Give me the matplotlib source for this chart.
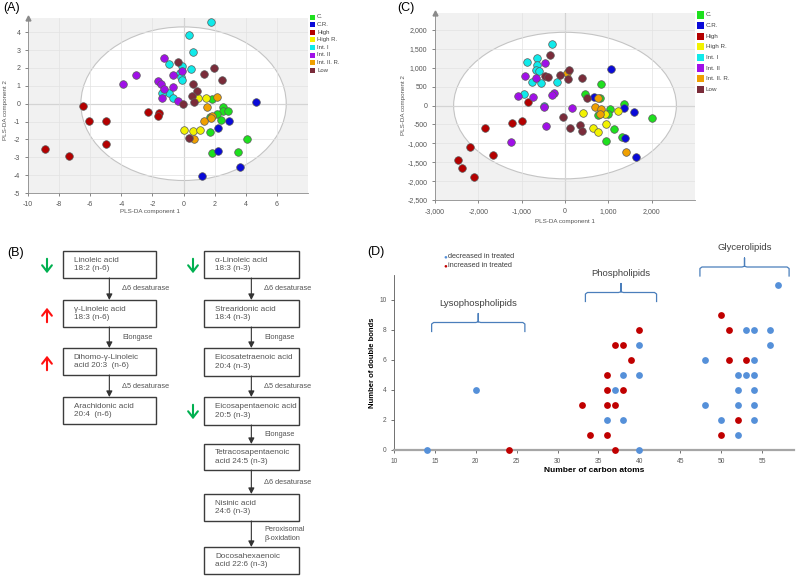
import numpy as np
import matplotlib
matplotlib.use("Agg")
import matplotlib.pyplot as plt
from matplotlib.patches import Ellipse, Rectangle
from matplotlib.ticker import FuncFormatter

plt.rcParams['font.family'] = ['Liberation Sans', 'DejaVu Sans']
plt.rcParams['axes.unicode_minus'] = False

W, H = 796, 581

# ---- group names / colours (shared by A and C)
groups = ['C.', 'C.R.', 'High', 'High R.', 'Int. I', 'Int. II', 'Int. II. R.', 'Low']
group_colors = ['#1ee01e', '#0a0ad8', '#b40000', '#f2f200', '#10eaea', '#a010e8', '#f0a000', '#7a2c3a']

# ---- panel A scores (component 1, component 2) per group
a_x = {
    'C.': [1.80, 2.56, 2.52, 2.88, 2.18, 1.69, 2.42, 1.72, 4.05, 3.50, 1.84],
    'C.R.': [4.68, 2.90, 2.20, 2.20, 3.60, 1.21],
    'High': [-6.44, -6.06, -4.98, -4.98, -8.92, -7.37, -2.31, -1.55, -1.67],
    'High R.': [0.91, 1.42, 0.00, 0.61, 1.08],
    'Int. I': [1.76, 0.34, 0.59, -0.93, -0.13, 0.49, -0.25, -0.15, -0.13, -0.93, -1.40, -0.66],
    'Int. II': [-1.25, -3.05, -3.88, -1.63, -1.42, -1.27, -0.70, -0.66, -0.08, -1.38, -0.38],
    'Int. II. R.': [2.16, 1.48, 1.80, 1.76, 1.33, 0.66],
    'Low': [-0.34, 1.95, 1.33, 2.44, 0.59, 0.89, 0.55, 0.64, -0.04, 0.34],
}
a_y = {
    'C.': [0.28, -0.17, -0.39, -0.41, -0.60, -0.76, -0.93, -1.57, -2.00, -2.69, -2.76],
    'C.R.': [0.07, -0.99, -1.38, -2.63, -3.53, -4.05],
    'High': [-0.13, -0.99, -0.99, -2.28, -2.54, -2.95, -0.47, -0.50, -0.67],
    'High R.': [0.32, 0.30, -1.47, -1.51, -1.47],
    'Int. I': [4.57, 3.86, 2.87, 2.20, 2.09, 1.94, 1.74, 1.51, 1.31, 0.62, 0.62, 0.30],
    'Int. II': [2.54, 1.60, 1.08, 1.27, 1.10, 0.80, 0.93, 1.60, 1.85, 0.30, 0.17],
    'Int. II. R.': [0.37, -0.19, -0.69, -0.82, -0.99, -2.00],
    'Low': [2.33, 2.01, 1.66, 1.32, 1.08, 0.73, 0.45, 0.07, -0.02, -1.90],
}

# ---- panel C scores
c_x = {
    'C.': [462, 823, 808, 1046, 1369, 769, 992, 2000, 1131, 1308, 954],
    'C.R.': [1062, 669, 1369, 1600, 1392, 1646],
    'High': [-862, -1000, -1215, -1846, -2185, -1654, -2469, -2369, -2092],
    'High R.': [408, 923, 1231, 938, 646, 769],
    'Int. I': [-292, -877, -654, -646, -669, -600, -754, -562, -192, -946, -477],
    'Int. II': [-454, -915, -677, -1085, -731, -254, -292, -492, 154, -446, -1246],
    'Int. II. R.': [38, 769, 700, 823, 808, 1400],
    'Low': [-338, -462, -385, -108, 100, 69, 385, 508, -46, 123, 346, 400],
}
c_y = {
    'C.': [317, 581, 202, -79, 44, -238, -211, -334, -616, -827, -942],
    'C.R.': [959, 229, -62, -176, -871, -1373],
    'High': [88, -396, -475, -598, -1100, -1311, -1452, -1663, -1901],
    'High R.': [-194, -229, -132, -493, -598, -713],
    'Int. I': [1637, 1153, 1267, 1082, 950, 906, 616, 607, 634, 299, 0],
    'Int. II': [1126, 774, 739, 255, 220, 334, 273, -35, -53, -546, -968],
    'Int. II. R.': [862, 202, -26, -97, -211, -1241],
    'Low': [1329, 792, 757, 818, 942, 713, 730, 202, -299, -590, -510, -686],
}

# ---- panel B pathway
n6_names = ['Linoleic acid\n18:2 (n-6)', 'γ-Linoleic acid\n18:3 (n-6)',
            'Dihomo-γ-Linoleic\nacid 20:3  (n-6)', 'Arachidonic acid\n20:4  (n-6)']
n6_enzymes = ['Δ6 desaturase', 'Elongase', 'Δ5 desaturase']
n6_change = ['down', 'up', 'up', None]
n3_names = ['α-Linoleic acid\n18:3 (n-3)', 'Strearidonic acid\n18:4 (n-3)',
            'Eicosatetraenoic acid\n20:4 (n-3)', 'Eicosapentaenoic acid\n20:5 (n-3)',
            'Tetracosapentaenoic\nacid 24:5 (n-3)', 'Nisinic acid\n24:6 (n-3)',
            'Docosahexaenoic\nacid 22:6 (n-3)']
n3_enzymes = ['Δ6 desaturase', 'Elongase', 'Δ5 desaturase', 'Elongase',
              'Δ6 desaturase', 'Peroxisomal\nβ-oxidation']
n3_change = ['down', None, None, 'down', None, None, None]

# ---- panel D lipids (carbon atoms, double bonds)
dec_carbons = [14, 20, 36, 38, 37, 40, 38, 40, 40, 48, 48, 50, 52, 52, 52, 52, 53,
               54, 54, 54, 54, 54, 53, 54, 56, 56, 57]
dec_bonds = [0, 4, 2, 2, 4, 0, 5, 5, 7, 3, 6, 2, 1, 3, 4, 5, 5,
             2, 3, 4, 5, 6, 8, 8, 8, 7, 11]
inc_carbons = [24, 33, 34, 36, 36, 37, 36, 38, 37, 36, 39, 37, 38, 40,
               50, 50, 51, 51, 53, 52]
inc_bonds = [0, 3, 1, 1, 3, 3, 4, 4, 0, 5, 6, 7, 7, 8,
             1, 9, 8, 6, 6, 2]
lipid_classes = ['Lysophospholipids', 'Phospholipids', 'Glycerolipids']
class_span = [(14.6, 26.0), (33.4, 42.1), (47.4, 58.3)]
class_level = [7.9, 9.9, 11.6]


def px_axes(x0, y0, x1, y1):
    return fig.add_axes([x0 / W, 1 - y1 / H, (x1 - x0) / W, (y1 - y0) / H])


fig = plt.figure(figsize=(W / 100, H / 100), dpi=100)


def pls_panel(ax, xs, ys, xlim, ylim, ell, s):
    ax.set_facecolor('#f1f1f1')
    ax.grid(True, color='#e2e2e2', lw=0.5, zorder=0)
    ax.add_patch(Ellipse((0, 0), 2 * ell[0], 2 * ell[1], facecolor='white',
                         edgecolor='#c4c4c4', lw=0.8, zorder=1))
    ax.axhline(0, color='#b4b4b4', lw=0.8, zorder=1.5)
    ax.axvline(0, color='#b4b4b4', lw=0.8, zorder=1.5)
    for g, col in zip(groups, group_colors):
        ax.scatter(xs[g], ys[g], s=s, c=col, edgecolors='#5a5a5a', linewidths=0.5, zorder=3)
    ax.set_xlim(*xlim)
    ax.set_ylim(*ylim)
    for sp in ['top', 'right']:
        ax.spines[sp].set_visible(False)
    for sp in ['left', 'bottom']:
        ax.spines[sp].set_color('#8a8a8a')
        ax.spines[sp].set_linewidth(0.6)
    ax.tick_params(labelsize=5, colors='#555555', length=2, width=0.5)
    ax.plot([0], [1], marker='^', color='#8a8a8a', ms=3.5, transform=ax.transAxes, clip_on=False)


def legend_block(x, y0, dy, sq, fs):
    for i, (g, col) in enumerate(zip(groups, group_colors)):
        yy = y0 + i * dy
        fig.patches.append(Rectangle(((x) / W, 1 - (yy + sq / 2) / H), sq / W, sq / H,
                                     transform=fig.transFigure, facecolor=col,
                                     edgecolor='none'))
        fig.text((x + sq + 2) / W, 1 - yy / H, g, fontsize=fs, color='#444444', va='center')


# ---------------- panel A
axA = px_axes(28, 18, 308, 193)
pls_panel(axA, a_x, a_y, (-9.8, 8), (-5, 4.8), (6.6, 4.3), 30)
axA.set_xticks(np.arange(-10, 7, 2))
axA.set_yticks(np.arange(-5, 5, 1))
fig.text(150 / W, 1 - 212 / H, 'PLS-DA component 1', fontsize=4.5, color='#555555', ha='center', va='center')
fig.text(6 / W, 1 - 110 / H, 'PLS-DA component 2', fontsize=4.5, color='#555555',
         ha='center', va='center', rotation=90)
legend_block(310, 17, 7.6, 5, 4.3)
fig.text(3 / W, 1 - 8 / H, '(A)', fontsize=9, va='center')

# ---------------- panel C
axC = px_axes(435, 13, 695, 200)
pls_panel(axC, c_x, c_y, (-3000, 3000), (-2500, 2450), (2570, 1940), 30)
axC.set_xticks(np.arange(-3000, 2001, 1000))
axC.set_yticks(np.arange(-2500, 2001, 500))
fmt = FuncFormatter(lambda v, _: f"{v:,.0f}")
axC.xaxis.set_major_formatter(fmt)
axC.yaxis.set_major_formatter(fmt)
fig.text(565 / W, 1 - 221 / H, 'PLS-DA component 1', fontsize=4.5, color='#555555', ha='center', va='center')
fig.text(403 / W, 1 - 105 / H, 'PLS-DA component 2', fontsize=4.5, color='#555555',
         ha='center', va='center', rotation=90)
legend_block(697, 15, 10.6, 7, 4.5)
fig.text(397 / W, 1 - 8 / H, '(C)', fontsize=9, va='center')

# ---------------- panel B (pixel space)
axB = fig.add_axes([0, 0, 1, 1])
axB.set_xlim(0, W)
axB.set_ylim(H, 0)
axB.axis('off')
axB.patch.set_alpha(0)


def pathway(names, enzymes, changes, x0, x1, tops, hts, arrow_x):
    cx = (x0 + x1) / 2
    for i, (nm, t, h) in enumerate(zip(names, tops, hts)):
        axB.add_patch(Rectangle((x0, t), x1 - x0, h, facecolor='white',
                                edgecolor='#3c3c3c', lw=1.0))
        axB.text(x0 + 11, t + h / 2, nm, fontsize=5.9, color='#555555', va='center',
                 linespacing=1.3)
        if changes[i] == 'down':
            axB.annotate('', xy=(arrow_x, t + 25), xytext=(arrow_x, t + 5),
                         arrowprops=dict(arrowstyle='->,head_length=0.45,head_width=0.35',
                                         color='#00b050', lw=1.5))
        elif changes[i] == 'up':
            axB.annotate('', xy=(arrow_x, t + 5), xytext=(arrow_x, t + 25),
                         arrowprops=dict(arrowstyle='->,head_length=0.45,head_width=0.35',
                                         color='#ff1010', lw=1.5))
    for i, enz in enumerate(enzymes):
        yb = tops[i] + hts[i]
        yt = tops[i + 1]
        axB.annotate('', xy=(cx, yt), xytext=(cx, yb),
                     arrowprops=dict(arrowstyle='-|>,head_length=0.35,head_width=0.18',
                                     color='#333333', lw=0.8, shrinkA=0, shrinkB=0))
        axB.text(cx + 13, (yb + yt) / 2, enz, fontsize=5.3, color='#555555', va='center',
                 linespacing=1.3)


pathway(n6_names, n6_enzymes, n6_change, 62.7, 156, [251, 300, 348, 397], [27] * 4, 47)
pathway(n3_names, n3_enzymes, n3_change, 204, 298.7,
        [251, 300, 348, 397, 444, 494, 547], [27, 27, 28, 28, 26, 27, 27], 193)
fig.text(7 / W, 1 - 253 / H, '(B)', fontsize=9, va='center')

# ---------------- panel D
axD = px_axes(394, 274.5, 794, 450)
axD.scatter(dec_carbons, dec_bonds, s=24, c='#5590d9', zorder=3, clip_on=False, linewidths=0)
axD.scatter(inc_carbons, inc_bonds, s=24, c='#c00000', zorder=3, clip_on=False, linewidths=0)
axD.set_xlim(10, 58.9)
axD.set_ylim(0, 11.7)
axD.set_xticks(np.arange(10, 56, 5))
axD.set_yticks(np.arange(0, 11, 2))
for sp in ['top', 'right']:
    axD.spines[sp].set_visible(False)
axD.spines['bottom'].set_color('#a6a6a6')
axD.spines['bottom'].set_linewidth(1.6)
axD.spines['left'].set_color('#595959')
axD.spines['left'].set_linewidth(0.6)
axD.tick_params(labelsize=4.8, colors='#595959', length=2, width=0.6)
axD.set_xlabel('Number of carbon atoms', fontsize=6, fontweight='bold', labelpad=2)
axD.set_ylabel('Number of double bonds', fontsize=5.5, fontweight='bold', labelpad=2)

for name, (x0, x1), yl in zip(lipid_classes, class_span, class_level):
    xm = (x0 + x1) / 2
    r = 0.6
    bx = [x0, x0, x0 + 0.25, xm - 0.3, xm, xm, xm, xm + 0.3, x1 - 0.25, x1, x1]
    by = [yl, yl + r - 0.1, yl + r, yl + r, yl + r + 0.05, yl + r + 0.6, yl + r + 0.05,
          yl + r, yl + r, yl + r - 0.1, yl]
    axD.plot(bx, by, color='#4a7ebb', lw=0.9, clip_on=False)
    axD.text(xm, yl + r + 1.3, name, fontsize=6.8, color='#404040', ha='center',
             va='center', clip_on=False)

fig.text(445 / W, 1 - 257 / H, '●', fontsize=4.5, color='#5590d9', ha='center', va='center')
fig.text(448 / W, 1 - 257 / H, 'decreased in treated', fontsize=5.3, color='#404040', va='center')
fig.text(445 / W, 1 - 266 / H, '●', fontsize=4.5, color='#c00000', ha='center', va='center')
fig.text(448 / W, 1 - 266 / H, 'increased in treated', fontsize=5.3, color='#404040', va='center')
fig.text(367 / W, 1 - 252 / H, '(D)', fontsize=9, va='center')

fig.savefig('out.png', dpi=100)
